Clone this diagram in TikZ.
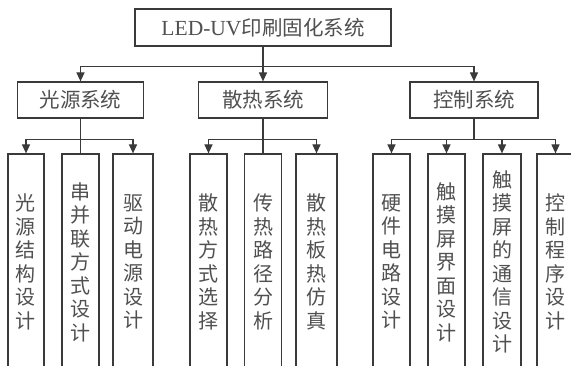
\documentclass[tikz,border=0pt]{standalone}
\usepackage{fontspec}
\setmainfont{Liberation Serif}
\newfontfamily\cjk{Noto Sans CJK SC}
\usetikzlibrary{arrows.meta}
\definecolor{linec}{HTML}{3A3A3A}
\definecolor{textc}{HTML}{505050}
\tikzset{
  box/.style={draw=linec, line width=1.2pt, inner sep=0pt, text=textc},
  headbox/.style={box, minimum height=37pt, font=\fontsize{21.5}{24}\selectfont},
  midbox/.style={box, minimum height=36pt, font=\cjk\fontsize{20.5}{24}\selectfont},
  leafbox/.style={box, minimum height=216pt, align=center, font=\cjk\fontsize{20}{23.5}\selectfont},
  link/.style={draw=linec, line width=1.2pt},
  arr/.style={link, -{Triangle[length=9pt,width=8pt]}}
}
\begin{document}
\begin{tikzpicture}[x=1pt,y=-1pt]
\path[use as bounding box] (0,0) rectangle (571,366);
\clip (0,0) rectangle (571,366);
\fill[white] (0,0) rectangle (571,366);

% top
\node[headbox, minimum width=256pt] (top) at (263,27.5) {LED-UV{\cjk\fontsize{20.5}{24}\selectfont 印刷固化系统}};

% level 2
\node[midbox, minimum width=126pt] (A) at (80.5,100) {光源系统};
\node[midbox, minimum width=129pt] (B) at (263,100) {散热系统};
\node[midbox, minimum width=128pt] (C) at (474,100) {控制系统};

% level 3
\node[leafbox, minimum width=36pt] (A1) at (26,262) {光\\源\\结\\构\\设\\计};
\node[leafbox, minimum width=37pt] (A2) at (80.5,262) {串\\并\\联\\方\\式\\设\\计};
\node[leafbox, minimum width=40pt] (A3) at (133,262) {驱\\动\\电\\源\\设\\计};

\node[leafbox, minimum width=37pt] (B1) at (208.5,262) {散\\热\\方\\式\\选\\择};
\node[leafbox, minimum width=37pt] (B2) at (263,262) {传\\热\\路\\径\\分\\析};
\node[leafbox, minimum width=41pt] (B3) at (316.5,262) {散\\热\\板\\热\\仿\\真};

\node[leafbox, minimum width=37pt] (C1) at (391.5,262) {硬\\件\\电\\路\\设\\计};
\node[leafbox, minimum width=37pt] (C2) at (446.5,262) {触\\摸\\屏\\界\\面\\设\\计};
\node[leafbox, minimum width=38pt] (C3) at (502,262) {触\\摸\\屏\\的\\通\\信\\设\\计};
\node[leafbox, minimum width=37pt] (C4) at (555.5,262) {控\\制\\程\\序\\设\\计};

% connectors level 1 -> 2
\draw[arr] (top.south) -- ++(0,20) -| (A.north);
\draw[arr] (top.south) -- (B.north);
\draw[arr] (top.south) -- ++(0,20) -| (C.north);

% level 2 -> 3
\draw[arr] (A.south) -- ++(0,21) -| (A1.north);
\draw[link] (A.south) -- (A2.north);
\draw[arr] (A.south) -- ++(0,21) -| (A3.north);

\draw[arr] (B.south) -- ++(0,21) -| (B1.north);
\draw[link] (B.south) -- (B2.north);
\draw[arr] (B.south) -- ++(0,21) -| (B3.north);

\draw[arr] (C.south) -- ++(0,21) -| (C1.north);
\draw[arr] (C.south) -- ++(0,21) -| (C2.north);
\draw[arr] (C.south) -- ++(0,21) -| (C3.north);
\draw[arr] (C.south) -- ++(0,21) -| (C4.north);
\end{tikzpicture}
\end{document}
